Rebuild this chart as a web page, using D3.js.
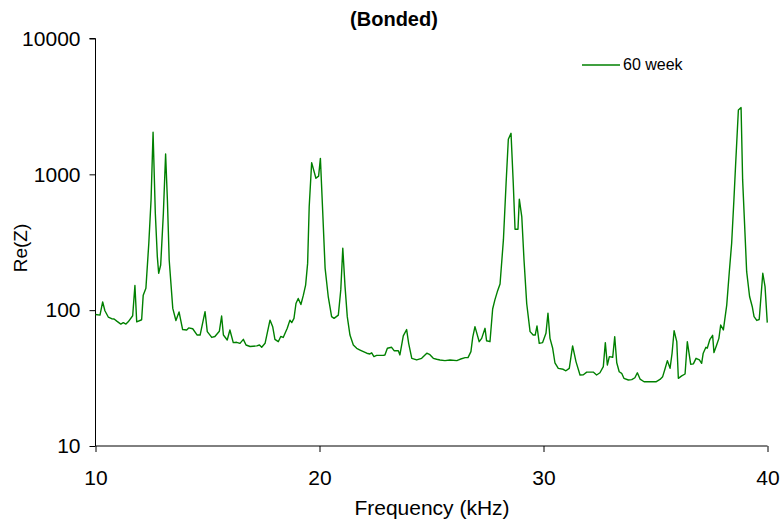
<!DOCTYPE html>
<html><head><meta charset="utf-8">
<script src="https://cdn.jsdelivr.net/npm/d3@7"></script>
<style>body{margin:0;background:#fff}text{font-family:"Liberation Sans",Arial,sans-serif;fill:#000}</style>
</head><body><svg id="c" width="783" height="522"></svg>
<script>
const freq = [10.00,10.20,10.32,10.42,10.57,10.72,10.83,10.95,11.13,11.24,11.36,11.46,11.66,11.76,11.84,12.06,12.13,12.25,12.38,12.48,12.57,12.67,12.76,12.82,12.91,13.03,13.13,13.21,13.29,13.45,13.59,13.73,13.89,14.07,14.16,14.34,14.54,14.67,14.89,14.99,15.19,15.33,15.53,
15.63,15.71,15.88,16.00,16.15,16.30,16.45,16.60,16.72,16.90,17.20,17.32,17.42,17.57,17.79,17.91,18.01,18.16,18.27,18.38,18.56,18.68,18.76,18.86,18.95,19.05,19.17,19.28,19.38,19.47,19.54,19.65,19.84,19.96,20.04,20.14,20.25,20.39,20.54,20.65,20.84,20.95,21.04,21.14,21.24,21.36,21.51,21.66,21.81,21.96,22.11,22.25,22.33,22.43,22.55,22.85,22.92,23.03,23.22,23.33,23.52,23.59,23.74,23.89,23.98,24.12,24.34,24.56,24.79,24.93,25.08,25.23,25.38,25.60,25.83,26.13,26.27,26.50,26.63,26.76,26.84,26.94,27.13,27.24,27.39,27.46,27.61,27.73,27.83,27.94,28.06,28.21,28.33,28.43,28.55,28.65,28.73,28.86,28.92,29.03,29.13,29.25,29.40,29.54,29.63,29.71,29.81,29.96,30.11,30.20,30.29,30.41,30.51,30.66,30.88,31.00,31.15,31.30,31.45,31.63,31.78,31.93,32.22,32.37,32.52,32.67,32.76,32.85,32.94,33.09,33.18,33.27,33.38,33.49,33.59,33.79,33.94,34.08,34.19,34.31,34.49,34.75,35.02,35.20,35.32,35.42,35.53,35.65,35.74,35.83,35.95,36.02,36.17,36.32,36.42,36.57,36.69,36.81,36.96,37.06,37.13,37.25,37.31,37.43,37.55,37.61,37.73,37.83,37.91,38.03,38.18,38.29,38.40,38.50,38.58,38.70,38.82,38.89,39.07,39.20,39.32,39.40,39.52,39.63,39.79,39.89,39.99];
const reZ = [93,92,115,99,89,86.5,86,83,79,81,79,82,91,152,82,85,129,145,311,648,2040,520,248,187,215,517,1410,648,234,103,84,97,72,71.5,74,73,65.6,65.6,97.5,69.5,63,64,70,
90.6,65.6,60.3,71.5,57.7,58,57,61,55.4,54,54.6,55.4,53.3,57,84.5,75.6,61,58.6,64,63,73.5,84.5,81,87,112,122,110,129,153,221,578,1220,935,970,1310,547,204,126,89.6,87,92,141,286,149,89.6,65.6,55.4,52.4,50.9,49.5,48.2,47.6,48.5,45.5,46.5,46.5,46.8,52.4,53.3,50.3,50.3,46.8,64.6,72,57,44.2,43,44.2,48.2,47,44.2,43.5,43,42.5,43,42.5,43.5,44.7,44.7,49.5,63,75.6,58.6,62,73.5,59.5,58.6,102,119,137,156,329,859,1810,2005,859,394,394,656,489,234,112,69.5,65.6,65.6,76.5,57,57.7,67.6,95,62,52.4,41,37.3,36.7,35.8,37.3,54.5,41.8,33.3,33.5,35,35,33.3,34.6,38.4,57.7,39.5,45.5,45,63.8,41,35.2,34.3,31.5,30.6,30.8,31.8,34.6,31.1,29.7,29.7,29.7,30.9,32.4,36.7,42.5,37.3,48.2,70.6,58.6,31.5,32.8,33.9,58.6,40,40.2,44.2,43,40.6,48.2,53.3,52.5,61,65.3,48.7,55.4,62,77.8,71.5,109,187,311,648,1210,2980,3100,910,192,126,106,89.6,84,85.4,187,149,81];
const xTicks = [10,20,30,40];
const yTicks = [10,100,1000,10000];
const seriesName = "60 week";
const title = "(Bonded)";
const xTitle = "Frequency (kHz)";
const yTitle = "Re(Z)";

const svg = d3.select("#c");
const x = d3.scaleLinear().domain([10,40]).range([95.5,767.5]);
const y = d3.scaleLog().domain([10,10000]).range([446,38.5]);

const xAxis = svg.append("g").attr("transform","translate(0,446)")
  .call(d3.axisBottom(x).tickValues(xTicks).tickSize(6).tickPadding(18).tickFormat(d3.format("d")));
const yAxis = svg.append("g").attr("transform","translate(95.5,0)")
  .call(d3.axisLeft(y).tickValues(yTicks).tickSize(6).tickPadding(9).tickFormat(d3.format("d")));
[xAxis,yAxis].forEach(a=>{
  a.select(".domain").attr("stroke","#000").attr("stroke-width",1);
  a.selectAll(".tick line").attr("stroke","#000");
  a.selectAll(".tick text").style("font-family","'Liberation Sans',Arial,sans-serif").style("font-size","21px").attr("fill","#000");
});
yAxis.select(".domain").attr("d", `M-6,${y(10000)}H0V${y(10)}`);
xAxis.select(".domain").attr("d", `M${x(10)},0H${x(40)}`);

const line = d3.line().x((d,i)=>x(freq[i])).y(d=>y(d));
svg.append("path").datum(reZ).attr("d",line).attr("fill","none").attr("stroke","#008000").attr("stroke-width",1.4).attr("stroke-linejoin","round");

svg.append("text").attr("x",394).attr("y",26).attr("text-anchor","middle").style("font-size","20px").style("font-weight","bold").text(title);
svg.append("text").attr("x",432).attr("y",515).attr("text-anchor","middle").style("font-size","21px").text(xTitle);
svg.append("text").attr("transform","translate(27,248) rotate(-90)").attr("text-anchor","middle").style("font-size","19px").text(yTitle);

svg.append("line").attr("x1",582).attr("x2",620).attr("y1",65).attr("y2",65).attr("stroke","#008000").attr("stroke-width",1.4);
svg.append("text").attr("x",623).attr("y",70).style("font-size","16px").text(seriesName);
</script></body></html>
